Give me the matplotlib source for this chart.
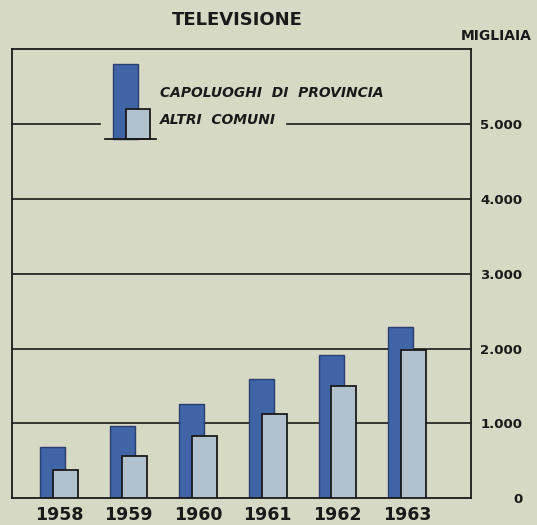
import numpy as np
import matplotlib.pyplot as plt
from matplotlib.patches import Rectangle

years = ['1958', '1959', '1960', '1961', '1962', '1963']
capoluoghi = [680, 965, 1255, 1590, 1920, 2285]
altri_comuni = [375, 565, 830, 1125, 1500, 1980]
yticks = [0, 1000, 2000, 3000, 4000, 5000]
ytick_labels = ['0', '1.000', '2.000', '3.000', '4.000', '5.000']

bg = '#d6d9c4'
dark = '#4064a6'
dark_edge = '#2b3f6e'
light = '#b1c1cd'
ink = '#1a1a1a'

fig = plt.figure(figsize=(5.37, 5.25), dpi=100)
fig.patch.set_facecolor(bg)
ax = fig.add_axes([12 / 537, 27 / 525, 459 / 537, 449 / 525])
ax.set_facecolor(bg)

x = np.arange(len(years))
w = 0.36
off = 0.09

# gridlines (the 5.000 one is broken by the legend)
for v in yticks[1:-1]:
    ax.axhline(v, color=ink, lw=1.2, zorder=1)
ax.axhline(yticks[-1], xmin=0, xmax=0.192, color=ink, lw=1.2, zorder=1)
ax.axhline(yticks[-1], xmin=0.599, xmax=1, color=ink, lw=1.2, zorder=1)

ax.bar(x - off, capoluoghi, w, color=dark, edgecolor=dark_edge, lw=1.0, zorder=2)
ax.bar(x + off, altri_comuni, w, color=light, edgecolor=ink, lw=1.3, zorder=3)

ax.set_xlim(-0.675, 5.92)
ax.set_ylim(0, 6010)

ax.set_xticks(x)
ax.set_xticklabels(years, fontsize=12.5, fontweight='bold', color=ink)
ax.tick_params(axis='x', length=0, pad=5.5)

ax.yaxis.tick_right()
ax.set_yticks(yticks)
ax.set_yticklabels(ytick_labels, fontsize=9.5, fontweight='bold', color=ink)
ax.tick_params(axis='y', length=0, pad=37)
for lab in ax.get_yticklabels():
    lab.set_horizontalalignment('right')

for s in ax.spines.values():
    s.set_linewidth(1.3)
    s.set_color(ink)

# legend drawn by hand
ax.add_patch(Rectangle((0.220, 0.7996), 0.0545, 0.167, transform=ax.transAxes,
                       facecolor=dark, edgecolor=dark_edge, lw=1.0, zorder=4))
ax.add_patch(Rectangle((0.2484, 0.7996), 0.0523, 0.0668, transform=ax.transAxes,
                       facecolor=light, edgecolor=ink, lw=1.3, zorder=5))
ax.plot([0.2026, 0.3137], [0.7996, 0.7996], transform=ax.transAxes, color=ink, lw=1.3, zorder=6)
ax.text(0.3224, 0.902, 'CAPOLUOGHI  DI  PROVINCIA', transform=ax.transAxes, fontsize=10,
        fontweight='bold', style='italic', color=ink, va='center', ha='left')
ax.text(0.3224, 0.842, 'ALTRI  COMUNI', transform=ax.transAxes, fontsize=10,
        fontweight='bold', style='italic', color=ink, va='center', ha='left')

fig.text(237 / 537, 1 - 20 / 525, 'TELEVISIONE', fontsize=13, fontweight='bold',
         color=ink, ha='center', va='center')
fig.text(496 / 537, 1 - 36 / 525, 'MIGLIAIA', fontsize=10, fontweight='bold',
         color=ink, ha='center', va='center')

fig.savefig('out.png', dpi=100, facecolor=bg)
